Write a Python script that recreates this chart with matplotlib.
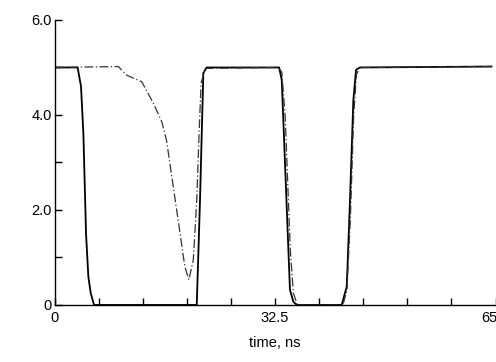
import matplotlib
matplotlib.use("Agg")
import matplotlib.pyplot as plt
from matplotlib.ticker import MultipleLocator

plt.rcParams['font.family'] = ['Liberation Sans', 'DejaVu Sans']

# solid curve (time in ns, voltage)
t_solid = [0.0, 3.4, 3.9, 4.25, 4.64, 4.98, 5.33, 5.82, 20.96, 21.44, 21.93, 22.4,
           33.1, 33.49, 34.7, 35.2, 35.7, 42.33, 43.07, 43.55, 44.04, 44.44, 45.0, 64.4]
v_solid = [5.0, 5.0, 4.6, 3.6, 1.5, 0.6, 0.25, 0.0, 0.0, 2.2, 4.88, 5.0,
           5.0, 4.74, 0.32, 0.07, 0.0, 0.0, 0.39, 2.2, 4.3, 4.95, 5.0, 5.02]

# dash-dot curve
t_dash = [0.0, 9.4, 10.6, 12.85, 14.56, 15.8, 16.5, 17.5, 18.5, 19.2, 19.8, 20.45,
          20.96, 21.3, 21.6, 22.2, 33.0, 33.5, 34.0, 34.75, 35.2, 35.8, 42.5, 43.1,
          43.6, 44.1, 44.5, 45.0, 64.4]
v_dash = [5.0, 5.02, 4.84, 4.7, 4.25, 3.86, 3.47, 2.49, 1.51, 0.81, 0.53, 0.95,
          2.2, 3.6, 4.67, 4.98, 5.0, 4.9, 3.96, 1.16, 0.25, 0.0, 0.0, 0.3,
          1.8, 4.0, 4.85, 5.0, 5.02]

fig = plt.figure(figsize=(4.96, 3.62), dpi=100)
ax = fig.add_axes([0.11, 0.1575, 0.889, 0.7873])

ax.plot(t_solid, v_solid, '-', color='black', lw=1.3)
ax.plot(t_dash, v_dash, color='#333333', lw=0.9, dashes=(7, 2, 1, 2))

ax.set_xlim(0, 65)
ax.set_ylim(0, 6)
ax.spines['top'].set_visible(False)
ax.spines['right'].set_visible(False)
for s in ['left', 'bottom']:
    ax.spines[s].set_linewidth(1.0)

ax.set_xticks([0, 32.5, 65])
ax.set_xticklabels(['0', '32.5', '65.0'])
ax.xaxis.set_minor_locator(MultipleLocator(6.5))
ax.set_yticks([0, 2, 4, 6])
ax.set_yticklabels(['0', '2.0', '4.0', '6.0'])
ax.yaxis.set_minor_locator(MultipleLocator(1))
ax.tick_params(which='both', direction='in', length=5, width=1.0, labelsize=10.5)
ax.tick_params(axis='y', which='both', pad=2)
ax.tick_params(axis='x', which='both', pad=4)

ax.set_xlabel('time, ns', fontsize=10.5, labelpad=8)

# cut-off caption letter at bottom edge
fig.text(0.548, -0.012, 'c', fontsize=10.5, ha='center', va='center')

fig.savefig('out.png', dpi=100)
